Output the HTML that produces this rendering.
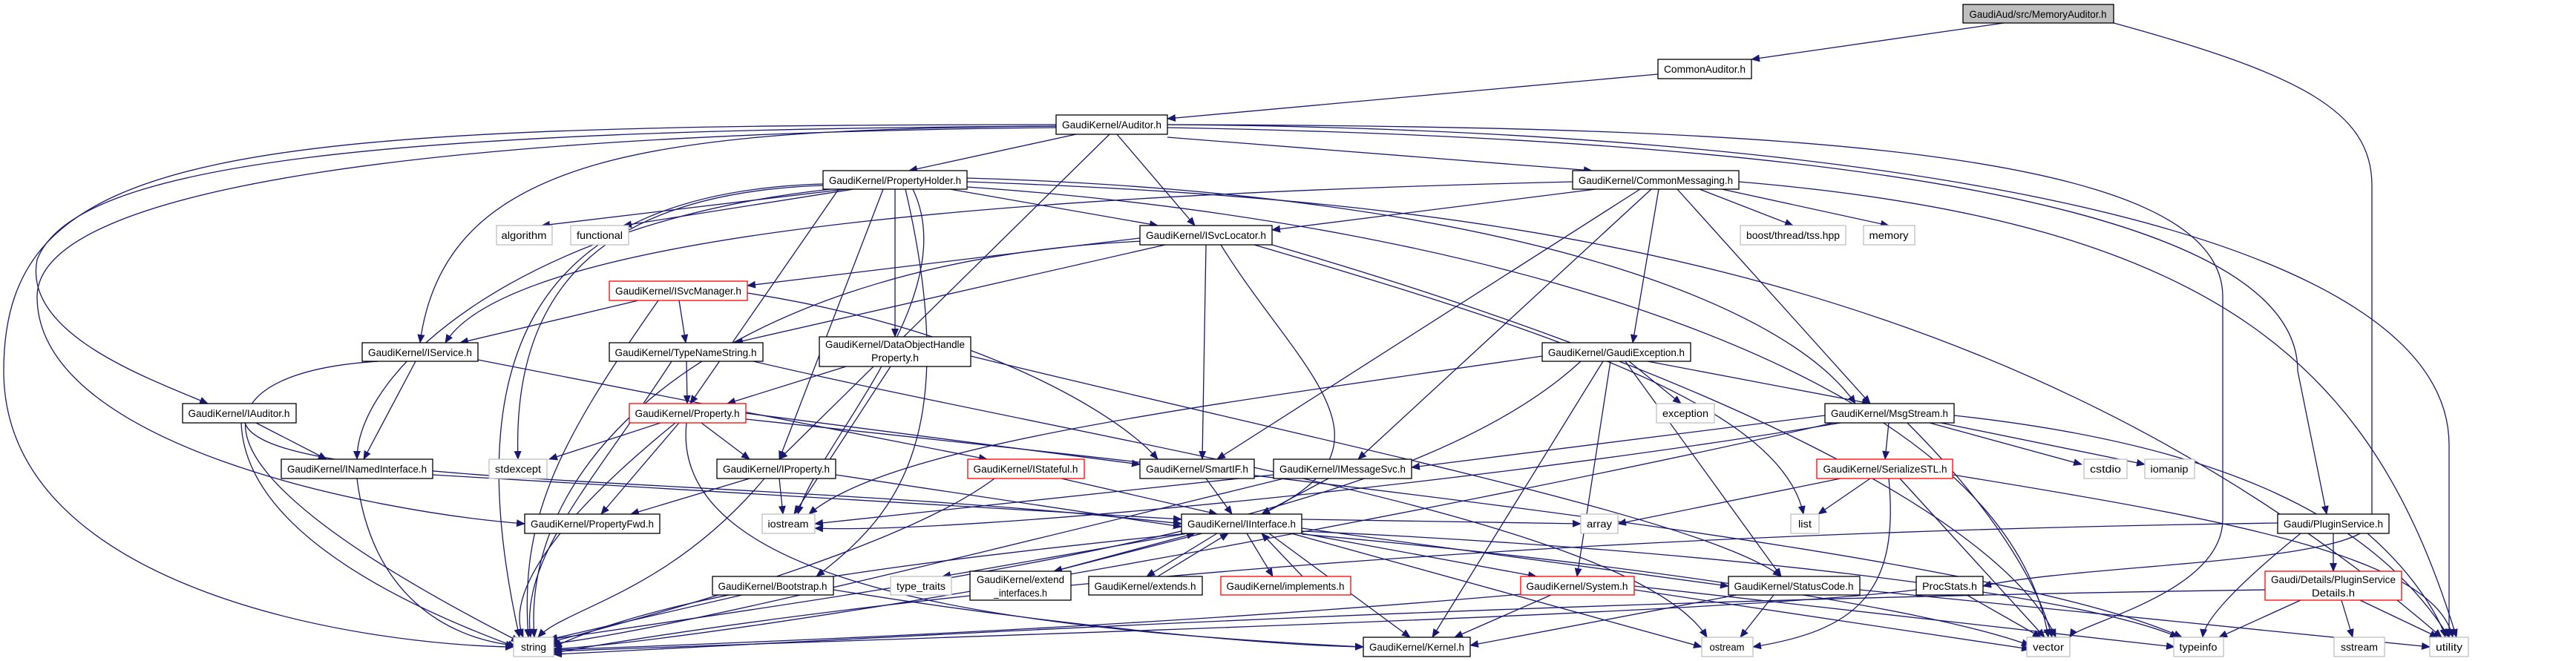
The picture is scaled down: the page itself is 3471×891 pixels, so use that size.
<!DOCTYPE html>
<html><head><meta charset="utf-8"><style>
html,body{margin:0;padding:0;background:#fff;}
svg{display:block;}
text{font-family:"Liberation Sans",sans-serif;font-size:14px;fill:#000;}
.n{fill:#fff;stroke:#000;stroke-width:1.3;}
.r{fill:#fff;stroke:#f00;stroke-width:1.3;}
.g{fill:#fff;stroke:#bfbfbf;stroke-width:1.3;}
.e{fill:none;stroke:#191970;stroke-width:1.3;marker-end:url(#a);}
</style></head><body>
<svg width="3471" height="891" viewBox="0 0 3471 891" xmlns="http://www.w3.org/2000/svg">
<defs><marker id="a" markerUnits="userSpaceOnUse" markerWidth="12" markerHeight="10" refX="11" refY="5" orient="auto"><path d="M0,0 L12,5 L0,10 z" fill="#191970"/></marker></defs>
<g>
<!-- edges -->
<path class="e" d="M2700,31 L2360,80"/>
<path class="e" d="M2848,31 C3100,100 3196,150 3196,250 L3196,700 C3196,760 2800,760 2672,790"/>
<path class="e" d="M2234,100 L1573,160"/>
<!-- Auditor -->
<path class="e" d="M1450,181 L1225,230"/>
<path class="e" d="M1573,185 L2145,230"/>
<path class="e" d="M1505,181 L1610,304"/>
<path class="e" d="M1495,181 L1050,619"/>
<path class="e" d="M1423,170 C900,175 600,200 566,462"/>
<path class="e" d="M1423,168 C300,168 5,200 5,500 C5,800 500,870 692,872"/>
<path class="e" d="M1423,170 C500,175 100,220 50,350 C30,450 200,510 280,544"/>
<path class="e" d="M1423,172 C600,180 50,250 50,400 C50,600 500,690 707,706"/>
<path class="e" d="M1573,168 C2400,170 2995,200 2995,400 L2995,700 C2995,800 2800,840 2789,859"/>
<path class="e" d="M1573,172 C2300,185 3096,250 3096,500 L3135,693"/>
<path class="e" d="M1573,168 C2500,175 3300,300 3300,600 L3300,859"/>
<!-- PropertyHolder -->
<path class="e" d="M1140,255 L730,304"/>
<path class="e" d="M1150,255 L840,304"/>
<path class="e" d="M1110,250 C800,260 690,400 698,619"/>
<path class="e" d="M1109,248 C700,260 620,500 700,859"/>
<path class="e" d="M1120,255 C700,300 481,500 481,619"/>
<path class="e" d="M1190,255 L1050,619"/>
<path class="e" d="M1130,255 L930,544"/>
<path class="e" d="M1206,255 L1206,454"/>
<path class="e" d="M1280,255 L1560,304"/>
<path class="e" d="M1230,255 C1300,400 1100,600 1075,693"/>
<path class="e" d="M1303,245 C2000,270 2700,350 3290,859"/>
<path class="e" d="M1303,240 C2000,260 2400,400 2500,544"/>
<path class="e" d="M1220,255 C1300,600 1200,700 1100,777"/>
<path class="e" d="M1303,252 C2000,300 2700,500 2760,859"/>
<!-- CommonMessaging -->
<path class="e" d="M2150,255 L1714,310"/>
<path class="e" d="M2119,245 C1500,260 700,300 600,462"/>
<path class="e" d="M2210,255 L1640,619"/>
<path class="e" d="M2225,255 L1830,619"/>
<path class="e" d="M2235,255 L2200,462"/>
<path class="e" d="M2260,255 L2520,544"/>
<path class="e" d="M2290,255 L2416,304"/>
<path class="e" d="M2320,255 L2545,304"/>
<path class="e" d="M2343,245 C3000,300 3200,500 3310,859"/>
<!-- ISvcLocator -->
<path class="e" d="M1560,318 L1007,385"/>
<path class="e" d="M1570,330 L990,462"/>
<path class="e" d="M1625,330 L1620,619"/>
<path class="e" d="M1645,330 C1750,500 1900,600 1700,693"/>
<path class="e" d="M1690,330 C2100,450 2400,550 2430,693"/>
<path class="e" d="M1540,325 C1000,350 700,600 720,859"/>
<path class="e" d="M1714,330 C2300,500 2700,700 2770,859"/>
<!-- ISvcManager -->
<path class="e" d="M860,405 L620,462"/>
<path class="e" d="M915,405 L924,462"/>
<path class="e" d="M1007,395 C1300,440 1500,550 1560,619"/>
<path class="e" d="M887,405 C750,600 700,700 712,859"/>
<!-- IService -->
<path class="e" d="M560,487 L490,619"/>
<path class="e" d="M644,485 L1330,619"/>
<path class="e" d="M510,487 C300,500 180,600 700,865"/>
<!-- TypeNameString -->
<path class="e" d="M925,487 L926,544"/>
<path class="e" d="M905,487 C800,650 700,750 715,859"/>
<path class="e" d="M1015,487 C1500,600 2200,700 2300,859"/>
<!-- DataObjectHandle -->
<path class="e" d="M1140,494 L980,544"/>
<path class="e" d="M1200,494 L1070,693"/>
<path class="e" d="M1308,480 C1800,600 2300,700 2400,777"/>
<!-- GaudiException -->
<path class="e" d="M2078,480 C1600,550 1200,600 1090,693"/>
<path class="e" d="M2195,487 L2265,544"/>
<path class="e" d="M2220,487 L2520,544"/>
<path class="e" d="M2170,487 L2125,777"/>
<path class="e" d="M2190,487 L2400,777"/>
<path class="e" d="M2160,487 L1930,859"/>
<path class="e" d="M2130,487 C1900,700 1300,780 740,862"/>
<!-- IAuditor -->
<path class="e" d="M345,570 L440,619"/>
<path class="e" d="M325,570 C330,700 500,800 695,872"/>
<path class="e" d="M330,570 C360,660 1000,640 1592,706"/>
<!-- Property -->
<path class="e" d="M890,570 L740,619"/>
<path class="e" d="M945,570 L1010,619"/>
<path class="e" d="M915,570 L810,693"/>
<path class="e" d="M910,570 C750,700 680,800 705,859"/>
<path class="e" d="M1005,557 L1536,626"/>
<path class="e" d="M1005,565 C1800,650 2700,750 2940,859"/>
<path class="e" d="M925,570 C900,800 1400,850 1837,872"/>
<!-- INamedInterface -->
<path class="e" d="M481,645 C500,800 600,860 693,870"/>
<path class="e" d="M583,640 L1592,700"/>
<!-- IProperty -->
<path class="e" d="M1010,645 L850,693"/>
<path class="e" d="M1050,645 L1055,693"/>
<path class="e" d="M1030,645 C900,800 760,820 725,859"/>
<path class="e" d="M1126,640 L1592,710"/>
<!-- IStateful -->
<path class="e" d="M1430,645 L1640,693"/>
<path class="e" d="M1340,645 C1200,750 800,850 740,866"/>
<!-- SmartIF -->
<path class="e" d="M1625,645 L1660,693"/>
<!-- IMessageSvc -->
<path class="e" d="M1790,645 L1700,693"/>
<path class="e" d="M1716,640 L1098,706"/>
<path class="e" d="M1730,645 C1300,750 900,850 742,868"/>
<!-- MsgStream -->
<path class="e" d="M2545,570 L2540,619"/>
<path class="e" d="M2600,570 L2805,626"/>
<path class="e" d="M2615,570 L2890,626"/>
<path class="e" d="M2459,560 L1902,630"/>
<path class="e" d="M2480,570 C2000,650 1300,720 1098,712"/>
<path class="e" d="M2570,570 C2700,700 2750,800 2765,859"/>
<path class="e" d="M2470,570 C1900,700 1000,860 745,875"/>
<path class="e" d="M2633,560 C3000,600 3200,700 3300,859"/>
<!-- SerializeSTL -->
<path class="e" d="M2480,645 L2180,706"/>
<path class="e" d="M2520,645 L2450,693"/>
<path class="e" d="M2560,645 L2755,859"/>
<path class="e" d="M2545,645 C2560,800 2500,850 2362,872"/>
<path class="e" d="M2631,640 C3000,700 3280,750 3305,859"/>
<!-- Interface -->
<path class="e" d="M1600,719 L1270,777"/>
<path class="e" d="M1620,719 L1420,770"/>
<path class="e" d="M1640,719 L1545,777"/>
<path class="e" d="M1680,719 L1715,777"/>
<path class="e" d="M1754,719 L2070,777"/>
<path class="e" d="M1710,719 L1900,859"/>
<path class="e" d="M1740,719 L2293,872"/>
<path class="e" d="M1754,712 L2329,790"/>
<path class="e" d="M1754,700 L2130,706"/>
<path class="e" d="M1754,716 C2300,740 2800,800 2935,859"/>
<path class="e" d="M1754,720 C2200,760 2600,820 2735,870"/>
<path class="e" d="M1600,719 C1200,760 900,800 746,872"/>
<!-- back edges to Interface -->
<path class="e" d="M1420,770 L1610,719"/>
<path class="e" d="M1560,777 L1655,719"/>
<path class="e" d="M1755,777 L1700,719"/>
<!-- System -->
<path class="e" d="M2090,802 L1960,859"/>
<path class="e" d="M2060,800 C1500,850 900,870 746,876"/>
<path class="e" d="M2202,795 L2735,875"/>
<path class="e" d="M2202,790 L2930,872"/>
<!-- StatusCode -->
<path class="e" d="M2390,802 L2345,859"/>
<path class="e" d="M2340,802 L1981,870"/>
<path class="e" d="M2506,795 L3274,872"/>
<!-- PluginService -->
<path class="e" d="M3144,719 L3144,770"/>
<path class="e" d="M3100,719 C3000,800 2970,840 2968,859"/>
<path class="e" d="M3190,719 C3260,780 3290,840 3295,859"/>
<path class="e" d="M3069,705 C2000,720 1200,800 746,880"/>
<!-- PluginServiceDetails -->
<path class="e" d="M3100,809 L2990,859"/>
<path class="e" d="M3155,809 L3170,859"/>
<path class="e" d="M3180,809 L3285,859"/>
<path class="e" d="M3052,795 C2000,810 1200,860 746,882"/>
<!-- ProcStats -->
<path class="e" d="M2650,802 L2750,859"/>
<path class="e" d="M2582,795 C2300,830 1200,860 746,878"/>
<!-- Bootstrap -->
<path class="e" d="M1000,802 L740,862"/>
<path class="e" d="M1123,795 C1400,840 1700,870 1837,872"/>
</g>
<g>
<!-- nodes -->
<rect x="2645" y="6" width="203" height="25" fill="#bfbfbf" stroke="#000" stroke-width="1.3"/><text x="2746" y="24" text-anchor="middle" textLength="185" lengthAdjust="spacingAndGlyphs">GaudiAud/src/MemoryAuditor.h</text>
<rect class="n" x="2234" y="80" width="126" height="26"/><text x="2297" y="98" text-anchor="middle" textLength="110" lengthAdjust="spacingAndGlyphs">CommonAuditor.h</text>
<rect class="n" x="1423" y="155" width="150" height="26"/><text x="1498" y="173" text-anchor="middle" textLength="134" lengthAdjust="spacingAndGlyphs">GaudiKernel/Auditor.h</text>
<rect class="n" x="1109" y="230" width="194" height="25"/><text x="1206" y="248" text-anchor="middle" textLength="178" lengthAdjust="spacingAndGlyphs">GaudiKernel/PropertyHolder.h</text>
<rect class="n" x="2119" y="230" width="224" height="25"/><text x="2231" y="248" text-anchor="middle" textLength="208" lengthAdjust="spacingAndGlyphs">GaudiKernel/CommonMessaging.h</text>
<rect class="g" x="669" y="304" width="75" height="26"/><text x="706" y="322" text-anchor="middle" textLength="61" lengthAdjust="spacingAndGlyphs">algorithm</text>
<rect class="g" x="769" y="304" width="78" height="26"/><text x="808" y="322" text-anchor="middle" textLength="62" lengthAdjust="spacingAndGlyphs">functional</text>
<rect class="n" x="1536" y="304" width="178" height="26"/><text x="1625" y="322" text-anchor="middle" textLength="162" lengthAdjust="spacingAndGlyphs">GaudiKernel/ISvcLocator.h</text>
<rect class="g" x="2345" y="304" width="142" height="26"/><text x="2416" y="322" text-anchor="middle" textLength="126" lengthAdjust="spacingAndGlyphs">boost/thread/tss.hpp</text>
<rect class="g" x="2511" y="304" width="69" height="26"/><text x="2545" y="322" text-anchor="middle" textLength="53" lengthAdjust="spacingAndGlyphs">memory</text>
<rect class="r" x="821" y="379" width="186" height="26"/><text x="914" y="397" text-anchor="middle" textLength="170" lengthAdjust="spacingAndGlyphs">GaudiKernel/ISvcManager.h</text>
<rect class="n" x="488" y="462" width="156" height="25"/><text x="566" y="480" text-anchor="middle" textLength="140" lengthAdjust="spacingAndGlyphs">GaudiKernel/IService.h</text>
<rect class="n" x="821" y="462" width="207" height="25"/><text x="924" y="480" text-anchor="middle" textLength="191" lengthAdjust="spacingAndGlyphs">GaudiKernel/TypeNameString.h</text>
<rect class="n" x="1104" y="454" width="204" height="40"/><text x="1206" y="469" text-anchor="middle" textLength="188" lengthAdjust="spacingAndGlyphs">GaudiKernel/DataObjectHandle</text><text x="1206" y="487" text-anchor="middle" textLength="64" lengthAdjust="spacingAndGlyphs">Property.h</text>
<rect class="n" x="2078" y="462" width="200" height="25"/><text x="2178" y="480" text-anchor="middle" textLength="184" lengthAdjust="spacingAndGlyphs">GaudiKernel/GaudiException.h</text>
<rect class="n" x="246" y="544" width="153" height="26"/><text x="322" y="562" text-anchor="middle" textLength="137" lengthAdjust="spacingAndGlyphs">GaudiKernel/IAuditor.h</text>
<rect class="r" x="848" y="544" width="157" height="26"/><text x="926" y="562" text-anchor="middle" textLength="141" lengthAdjust="spacingAndGlyphs">GaudiKernel/Property.h</text>
<rect class="g" x="2232" y="544" width="78" height="26"/><text x="2271" y="562" text-anchor="middle" textLength="62" lengthAdjust="spacingAndGlyphs">exception</text>
<rect class="n" x="2459" y="544" width="174" height="26"/><text x="2546" y="562" text-anchor="middle" textLength="158" lengthAdjust="spacingAndGlyphs">GaudiKernel/MsgStream.h</text>
<rect class="n" x="379" y="619" width="204" height="26"/><text x="481" y="637" text-anchor="middle" textLength="188" lengthAdjust="spacingAndGlyphs">GaudiKernel/INamedInterface.h</text>
<rect class="g" x="659" y="619" width="78" height="26"/><text x="698" y="637" text-anchor="middle" textLength="62" lengthAdjust="spacingAndGlyphs">stdexcept</text>
<rect class="n" x="966" y="619" width="160" height="26"/><text x="1046" y="637" text-anchor="middle" textLength="144" lengthAdjust="spacingAndGlyphs">GaudiKernel/IProperty.h</text>
<rect class="r" x="1304" y="619" width="157" height="26"/><text x="1382" y="637" text-anchor="middle" textLength="141" lengthAdjust="spacingAndGlyphs">GaudiKernel/IStateful.h</text>
<rect class="n" x="1536" y="619" width="154" height="26"/><text x="1613" y="637" text-anchor="middle" textLength="138" lengthAdjust="spacingAndGlyphs">GaudiKernel/SmartIF.h</text>
<rect class="n" x="1716" y="619" width="186" height="26"/><text x="1809" y="637" text-anchor="middle" textLength="170" lengthAdjust="spacingAndGlyphs">GaudiKernel/IMessageSvc.h</text>
<rect class="r" x="2448" y="619" width="183" height="26"/><text x="2540" y="637" text-anchor="middle" textLength="167" lengthAdjust="spacingAndGlyphs">GaudiKernel/SerializeSTL.h</text>
<rect class="g" x="2808" y="619" width="58" height="26"/><text x="2837" y="637" text-anchor="middle" textLength="42" lengthAdjust="spacingAndGlyphs">cstdio</text>
<rect class="g" x="2890" y="619" width="67" height="26"/><text x="2923" y="637" text-anchor="middle" textLength="51" lengthAdjust="spacingAndGlyphs">iomanip</text>
<rect class="n" x="707" y="693" width="182" height="26"/><text x="798" y="711" text-anchor="middle" textLength="166" lengthAdjust="spacingAndGlyphs">GaudiKernel/PropertyFwd.h</text>
<rect class="g" x="1027" y="693" width="71" height="26"/><text x="1062" y="711" text-anchor="middle" textLength="55" lengthAdjust="spacingAndGlyphs">iostream</text>
<rect class="n" x="1592" y="693" width="162" height="26"/><text x="1673" y="711" text-anchor="middle" textLength="146" lengthAdjust="spacingAndGlyphs">GaudiKernel/IInterface.h</text>
<rect class="g" x="2130" y="693" width="50" height="26"/><text x="2155" y="711" text-anchor="middle" textLength="34" lengthAdjust="spacingAndGlyphs">array</text>
<rect class="g" x="2413" y="693" width="38" height="26"/><text x="2432" y="711" text-anchor="middle" textLength="18" lengthAdjust="spacingAndGlyphs">list</text>
<rect class="n" x="3069" y="693" width="150" height="26"/><text x="3144" y="711" text-anchor="middle" textLength="134" lengthAdjust="spacingAndGlyphs">Gaudi/PluginService.h</text>
<rect class="n" x="960" y="777" width="163" height="25"/><text x="1041" y="795" text-anchor="middle" textLength="147" lengthAdjust="spacingAndGlyphs">GaudiKernel/Bootstrap.h</text>
<rect class="g" x="1200" y="777" width="82" height="25"/><text x="1241" y="795" text-anchor="middle" textLength="66" lengthAdjust="spacingAndGlyphs">type_traits</text>
<rect class="n" x="1307" y="770" width="136" height="39"/><text x="1375" y="786" text-anchor="middle" textLength="118" lengthAdjust="spacingAndGlyphs">GaudiKernel/extend</text><text x="1375" y="804" text-anchor="middle" textLength="72" lengthAdjust="spacingAndGlyphs">_interfaces.h</text>
<rect class="n" x="1467" y="777" width="153" height="25"/><text x="1543" y="795" text-anchor="middle" textLength="137" lengthAdjust="spacingAndGlyphs">GaudiKernel/extends.h</text>
<rect class="r" x="1645" y="777" width="175" height="25"/><text x="1732" y="795" text-anchor="middle" textLength="159" lengthAdjust="spacingAndGlyphs">GaudiKernel/implements.h</text>
<rect class="r" x="2049" y="777" width="153" height="25"/><text x="2125" y="795" text-anchor="middle" textLength="137" lengthAdjust="spacingAndGlyphs">GaudiKernel/System.h</text>
<rect class="n" x="2329" y="777" width="177" height="25"/><text x="2417" y="795" text-anchor="middle" textLength="161" lengthAdjust="spacingAndGlyphs">GaudiKernel/StatusCode.h</text>
<rect class="n" x="2582" y="777" width="90" height="25"/><text x="2627" y="795" text-anchor="middle" textLength="74" lengthAdjust="spacingAndGlyphs">ProcStats.h</text>
<rect class="r" x="3052" y="770" width="184" height="39"/><text x="3144" y="786" text-anchor="middle" textLength="168" lengthAdjust="spacingAndGlyphs">Gaudi/Details/PluginService</text><text x="3144" y="804" text-anchor="middle" textLength="58" lengthAdjust="spacingAndGlyphs">Details.h</text>
<rect class="g" x="692" y="859" width="54" height="26"/><text x="719" y="877" text-anchor="middle" textLength="34" lengthAdjust="spacingAndGlyphs">string</text>
<rect class="n" x="1837" y="859" width="144" height="26"/><text x="1909" y="877" text-anchor="middle" textLength="128" lengthAdjust="spacingAndGlyphs">GaudiKernel/Kernel.h</text>
<rect class="g" x="2293" y="859" width="69" height="26"/><text x="2327" y="877" text-anchor="middle" textLength="47" lengthAdjust="spacingAndGlyphs">ostream</text>
<rect class="g" x="2731" y="859" width="58" height="26"/><text x="2760" y="877" text-anchor="middle" textLength="42" lengthAdjust="spacingAndGlyphs">vector</text>
<rect class="g" x="2929" y="859" width="67" height="26"/><text x="2962" y="877" text-anchor="middle" textLength="51" lengthAdjust="spacingAndGlyphs">typeinfo</text>
<rect class="g" x="3145" y="859" width="68" height="26"/><text x="3179" y="877" text-anchor="middle" textLength="50" lengthAdjust="spacingAndGlyphs">sstream</text>
<rect class="g" x="3274" y="859" width="52" height="26"/><text x="3300" y="877" text-anchor="middle" textLength="36" lengthAdjust="spacingAndGlyphs">utility</text>
</g>
</svg>
</body></html>
